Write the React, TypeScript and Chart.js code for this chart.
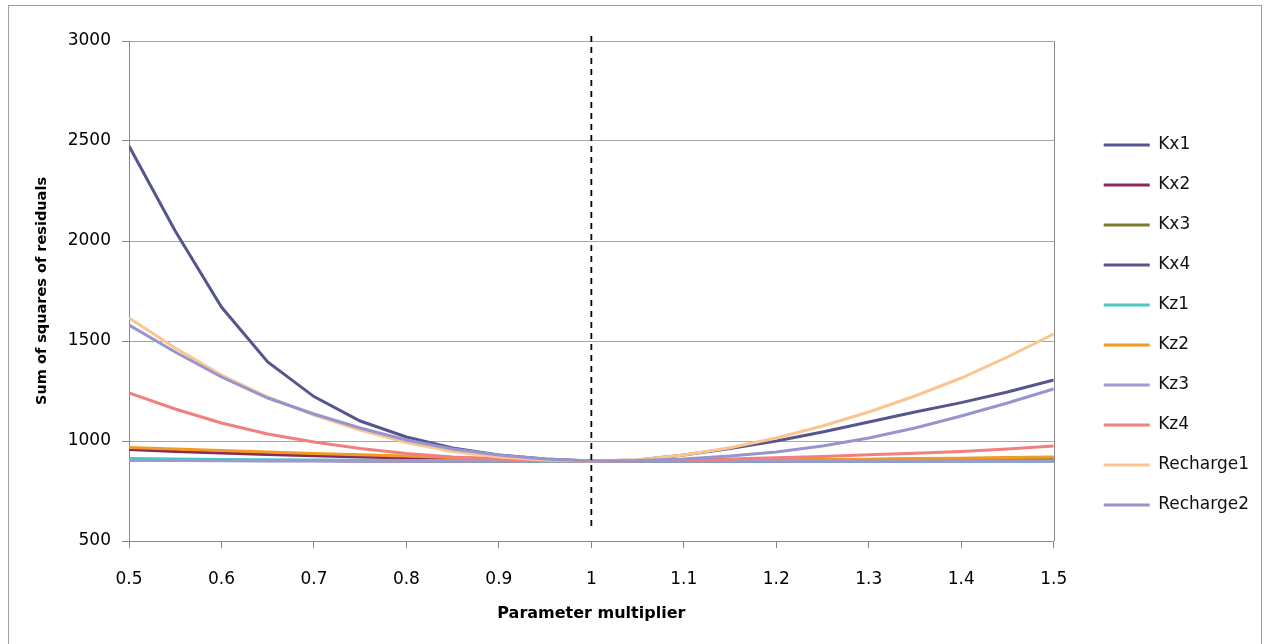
import React, { useEffect, useRef } from "react";
import { Chart, registerables } from "chart.js";

Chart.register(...registerables);

const X_VALUES = [0.5, 0.55, 0.6, 0.65, 0.7, 0.75, 0.8, 0.85, 0.9, 0.95, 1.0, 1.05, 1.1, 1.15, 1.2, 1.25, 1.3, 1.35, 1.4, 1.45, 1.5];

const SERIES_NAMES = ["Kx1", "Kx2", "Kx3", "Kx4", "Kz1", "Kz2", "Kz3", "Kz4", "Recharge1", "Recharge2"];
const SERIES_COLORS = ["#56568F", "#8B2A5A", "#7B7B2F", "#56568F", "#4BC6C6", "#F39A22", "#9E9ACF", "#F17F7F", "#FBC590", "#9695CE"];

const KX1 = [903, 902, 902, 901, 901, 900, 900, 900, 900, 900, 900, 900, 900, 900, 900, 900, 900, 900, 900, 900, 900];
const KX2 = [957, 948, 940, 933, 926, 920, 915, 910, 906, 903, 900, 900, 900, 900, 900, 901, 901, 901, 902, 902, 902];
const KX3 = [905, 904, 903, 902, 902, 901, 901, 900, 900, 900, 900, 901, 902, 903, 904, 906, 908, 910, 912, 914, 916];
const KX4 = [2475, 2050, 1670, 1395, 1222, 1100, 1020, 965, 930, 910, 900, 905, 930, 962, 1000, 1045, 1095, 1145, 1192, 1245, 1305];
const KZ1 = [912, 910, 908, 906, 905, 904, 903, 902, 901, 900, 900, 900, 900, 900, 900, 900, 900, 900, 900, 900, 900];
const KZ2 = [968, 960, 952, 945, 938, 931, 925, 918, 912, 905, 900, 901, 902, 903, 905, 907, 909, 912, 914, 917, 920];
const KZ3 = [902, 902, 901, 901, 901, 900, 900, 900, 900, 900, 900, 900, 900, 900, 900, 900, 900, 900, 900, 900, 900];
const KZ4 = [1240, 1160, 1090, 1035, 995, 962, 937, 920, 910, 903, 900, 902, 905, 910, 916, 923, 931, 939, 948, 960, 975];
const RECHARGE1 = [1615, 1465, 1330, 1220, 1130, 1055, 992, 948, 920, 905, 900, 906, 930, 966, 1015, 1075, 1145, 1225, 1315, 1420, 1535];
const RECHARGE2 = [1580, 1445, 1320, 1215, 1135, 1065, 1005, 960, 930, 910, 900, 902, 910, 925, 945, 975, 1015, 1065, 1125, 1190, 1260];

const SERIES_VALUES = [KX1, KX2, KX3, KX4, KZ1, KZ2, KZ3, KZ4, RECHARGE1, RECHARGE2];

const X_TICKS = [0.5, 0.6, 0.7, 0.8, 0.9, 1, 1.1, 1.2, 1.3, 1.4, 1.5];
const X_TICK_LABELS = ["0.5", "0.6", "0.7", "0.8", "0.9", "1", "1.1", "1.2", "1.3", "1.4", "1.5"];
const Y_TICKS = [500, 1000, 1500, 2000, 2500, 3000];
const Y_TICK_LABELS = ["500", "1000", "1500", "2000", "2500", "3000"];

const REF_X = 1;
const REF_Y_RANGE = [575, 3030];

const X_TITLE = "Parameter multiplier";
const Y_TITLE = "Sum of squares of residuals";

const FONT = "'DejaVu Sans', sans-serif";

function labelFor(ticks: number[], labels: string[], v: any) {
  const idx = ticks.findIndex((t) => Math.abs(t - Number(v)) < 1e-9);
  return idx >= 0 ? labels[idx] : "";
}

export default function App() {
  const ref = useRef<HTMLCanvasElement | null>(null);

  useEffect(() => {
    if (!ref.current) return;
    const n = SERIES_NAMES.length;
    const datasets: any[] = SERIES_NAMES.map((name, i) => ({
      label: name,
      data: X_VALUES.map((x, j) => ({ x, y: SERIES_VALUES[i][j] })),
      borderColor: SERIES_COLORS[i],
      backgroundColor: SERIES_COLORS[i],
      borderWidth: 3,
      pointRadius: 0,
      tension: 0,
      fill: false,
      order: n - i,
    }));
    datasets.push({
      label: "ref",
      data: REF_Y_RANGE.map((y) => ({ x: REF_X, y })),
      borderColor: "#000000",
      borderWidth: 1.8,
      borderDash: [6, 5],
      pointRadius: 0,
      clip: false,
      fill: false,
      order: 0,
    });

    const framePlugin = {
      id: "frame",
      beforeDatasetsDraw(chart: any) {
        const { ctx, chartArea } = chart;
        ctx.save();
        ctx.strokeStyle = "#868686";
        ctx.lineWidth = 1;
        ctx.beginPath();
        const r = Math.round(chartArea.right) + 0.5;
        ctx.moveTo(r, chartArea.top);
        ctx.lineTo(r, chartArea.bottom);
        ctx.stroke();
        ctx.restore();
      },
    };

    const chart = new Chart(ref.current, {
      type: "line",
      data: { datasets },
      plugins: [framePlugin],
      options: {
        animation: false,
        responsive: false,
        layout: { padding: { left: 0, right: 2, top: 0, bottom: 0 } },
        plugins: {
          tooltip: { enabled: false },
          legend: {
            position: "right",
            align: "center",
            labels: {
              font: { family: FONT, size: 17 },
              color: "#111111",
              boxWidth: 46,
              boxHeight: 3,
              padding: 23,
              generateLabels: () =>
                SERIES_NAMES.map((name, i) => ({
                  text: name,
                  fillStyle: SERIES_COLORS[i],
                  strokeStyle: SERIES_COLORS[i],
                  lineWidth: 0,
                  hidden: false,
                  datasetIndex: i,
                  fontColor: "#111111",
                })),
            },
          },
        },
        scales: {
          x: {
            type: "linear",
            position: "bottom",
            min: 0.5,
            max: 1.5,
            afterBuildTicks: (scale: any) => {
              scale.ticks = X_TICKS.map((v) => ({ value: v }));
            },
            afterFit: (scale: any) => {
              scale.height = 103;
            },
            ticks: {
              font: { family: FONT, size: 17 },
              color: "#000000",
              padding: 21,
              maxRotation: 0,
              autoSkip: false,
              callback: (v: any) => labelFor(X_TICKS, X_TICK_LABELS, v),
            },
            grid: { drawOnChartArea: false, drawTicks: true, tickLength: 7, color: "#868686" },
            border: { color: "#868686", width: 1 },
            title: {
              display: true,
              text: X_TITLE,
              font: { family: FONT, size: 16, weight: "bold" },
              color: "#000000",
              padding: { top: 0, bottom: 21 },
            },
          },
          xTop: {
            type: "linear",
            position: "top",
            min: 0,
            max: 1,
            display: true,
            ticks: { display: false },
            grid: { display: false, drawTicks: false },
            border: { display: false },
            afterFit: (scale: any) => {
              scale.height = 35;
            },
          },
          y: {
            type: "linear",
            position: "left",
            min: 500,
            max: 3000,
            afterBuildTicks: (scale: any) => {
              scale.ticks = Y_TICKS.map((v) => ({ value: v }));
            },
            afterFit: (scale: any) => {
              scale.width = 120;
            },
            ticks: {
              font: { family: FONT, size: 17 },
              color: "#000000",
              padding: 11,
              autoSkip: false,
              callback: (v: any) => labelFor(Y_TICKS, Y_TICK_LABELS, v),
            },
            grid: { color: "#a6a6a6", lineWidth: 1, tickLength: 7, tickColor: "#868686" },
            border: { color: "#868686", width: 1 },
            title: {
              display: true,
              text: Y_TITLE,
              font: { family: FONT, size: 14.5, weight: "bold" },
              color: "#000000",
              padding: { top: 25, bottom: 0 },
            },
          },
          yRight: {
            type: "linear",
            position: "right",
            min: 0,
            max: 1,
            display: true,
            ticks: { display: false },
            grid: { display: false, drawTicks: false },
            border: { display: false },
            afterFit: (scale: any) => {
              scale.width = 27;
            },
          },
        },
      } as any,
    });
    return () => chart.destroy();
  }, []);

  return (
    <div
      style={{
        position: "fixed",
        left: 8,
        top: 5,
        width: 1252,
        height: 700,
        border: "1px solid #a0a0a0",
        background: "#ffffff",
      }}
    >
      <canvas ref={ref} width={1252} height={638} style={{ display: "block", width: 1252, height: 638 }} />
    </div>
  );
}
